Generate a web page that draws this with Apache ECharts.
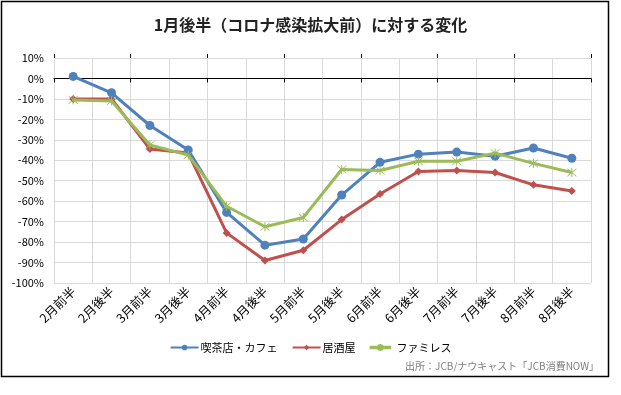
<!DOCTYPE html>
<html>
<head>
<meta charset="utf-8">
<script src="https://cdn.jsdelivr.net/npm/echarts@6/dist/echarts.min.js"></script>
<style>
html,body{margin:0;padding:0;background:#fff;}
#c{width:621px;height:395px;}
</style>
</head>
<body>
<div id="c"></div>
<script>
const categories = ['2月前半','2月後半','3月前半','3月後半','4月前半','4月後半','5月前半','5月後半','6月前半','6月後半','7月前半','7月後半','8月前半','8月後半'];
const cafe = [1, -7, -23, -35, -65.5, -81.5, -78.5, -57, -41, -37, -36, -38, -34, -39];
const izakaya = [-10, -10, -34.5, -36.5, -75.5, -89, -84, -69, -56.5, -45.5, -45, -46, -52, -55];
const famires = [-10.5, -11, -32.5, -37.5, -62.5, -72.5, -68, -44.5, -45, -40.5, -40.5, -36.5, -41.5, -46];
const seriesNames = ['喫茶店・カフェ','居酒屋','ファミレス'];
const titleText = '1月後半（コロナ感染拡大前）に対する変化';
const sourceText = '出所：JCB/ナウキャスト「JCB消費NOW」';

const FONT = '"Noto Sans CJK JP", "Noto Sans", sans-serif';
const asterisk = 'path://M0,0L10,10M10,0L0,10M5,-1L5,11';
const asteriskLegend = 'path://M0,4L28,4L28,6L0,6Z M10.5,1.5L17.5,8.5 M17.5,1.5L10.5,8.5 M14,0L14,10';
const chart = echarts.init(document.getElementById('c'), null, {renderer:'canvas'});
const baseCat = {
  type:'category', data:categories, boundaryGap:true,
  axisLabel:{show:false}, splitLine:{show:false}
};
chart.setOption({
  animation:false,
  backgroundColor:'#fff',
  textStyle:{fontFamily:FONT},
  title:{
    text:titleText, left:'center', top:12,
    textStyle:{fontFamily:FONT, fontSize:16, fontWeight:'bold', color:'#222'}
  },
  legend:{
    data:[seriesNames[0], seriesNames[1], {name:seriesNames[2], icon:asteriskLegend}],
    left:'center', top:337, itemWidth:28, itemHeight:7, itemGap:14,
    textStyle:{fontFamily:FONT, fontSize:11, color:'#000', padding:[0,0,0,-3]}
  },
  grid:{left:54, right:30, top:58, bottom:112, containLabel:false},
  xAxis:[
    Object.assign({}, baseCat, {
      position:'bottom',
      axisLine:{show:false, onZero:false},
      axisTick:{show:false},
      axisLabel:{show:true, rotate:45, fontSize:12.5, color:'#000', margin:6, interval:0, fontFamily:FONT},
      splitLine:{show:true, lineStyle:{color:'#d9d9d9', width:1}}
    }),
    Object.assign({}, baseCat, {
      position:'bottom',
      axisLine:{show:true, onZero:true, lineStyle:{color:'#000', width:1}},
      axisTick:{show:true, length:4, lineStyle:{color:'#000'}}
    }),
    Object.assign({}, baseCat, {
      position:'top',
      axisLine:{show:false, onZero:true},
      axisTick:{show:true, length:4, lineStyle:{color:'#000'}}
    })
  ],
  yAxis:{
    type:'value', min:-100, max:10, interval:10,
    axisLine:{show:false}, axisTick:{show:false},
    axisLabel:{formatter:'{value}%', fontSize:11, color:'#000', margin:10, fontFamily:FONT},
    splitLine:{show:true, lineStyle:{color:'#d9d9d9', width:1}}
  },
  series:[
    {name:seriesNames[0], type:'line', data:cafe, symbol:'circle', symbolSize:9,
     lineStyle:{color:'#4f81bd', width:3}, itemStyle:{color:'#4f81bd'}, z:3},
    {name:seriesNames[1], type:'line', data:izakaya, symbol:'diamond', symbolSize:8,
     lineStyle:{color:'#c0504d', width:3}, itemStyle:{color:'#c0504d'}, z:2},
    {name:seriesNames[2], type:'line', data:famires, symbol:asterisk, symbolSize:9,
     lineStyle:{color:'#9bbb59', width:3}, itemStyle:{color:'#9bbb59', borderColor:'#9bbb59', borderWidth:1}, z:4}
  ],
  graphic:[
    {type:'rect', shape:{x:1.5, y:1.5, width:607, height:375}, style:{fill:null, stroke:'#000', lineWidth:1.5}, silent:true, z:-1},
    {type:'text', right:22, top:361, style:{text:sourceText, fill:'#7f7f7f', fontSize:10, fontFamily:FONT}}
  ]
});
</script>
</body>
</html>
